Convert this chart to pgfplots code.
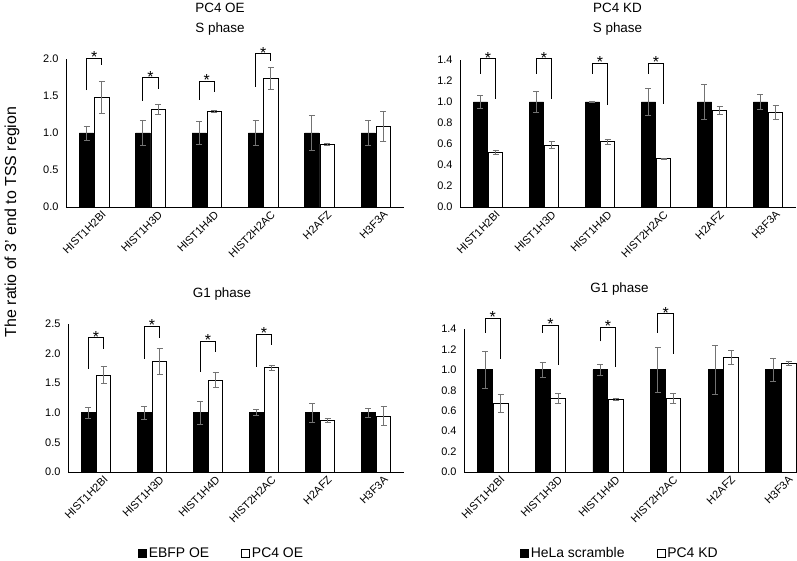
\documentclass[border=0pt]{standalone}
\usepackage{fontspec}
\setmainfont{Liberation Sans}
\usepackage{pgfplots}
\usepackage{pgfplotstable}
\pgfplotsset{compat=1.18}
\definecolor{errgray}{RGB}{115,115,115}
\newcommand\ticksize{\fontsize{11}{13}\selectfont}
\newcommand\titlesize{\fontsize{13.5}{15}\selectfont}
\newcommand\starsize{\fontsize{16}{17}\selectfont}

\pgfplotstableread{
xb xw b be w we
-0.135 0.135 1 0.095 1.48 0.22
0.865 1.135 1 0.17 1.32 0.065
1.865 2.135 1 0.15 1.29 0.012
2.865 3.135 1 0.17 1.74 0.15
3.865 4.135 1 0.24 0.85 0.015
4.865 5.135 1 0.17 1.09 0.20
}\sOE
\pgfplotstableread{
xb xw b be w we
-0.135 0.135 1 0.06 0.52 0.02
0.865 1.135 1 0.10 0.59 0.035
1.865 2.135 1 0.005 0.62 0.02
2.865 3.135 1 0.13 0.46 0.005
3.865 4.135 1 0.17 0.92 0.035
4.865 5.135 1 0.07 0.90 0.065
}\sKD
\pgfplotstableread{
xb xw b be w we
-0.135 0.135 1 0.09 1.64 0.14
0.865 1.135 1 0.11 1.86 0.22
1.865 2.135 1 0.19 1.55 0.13
2.865 3.135 1 0.05 1.76 0.04
3.865 4.135 1 0.16 0.87 0.04
4.865 5.135 1 0.08 0.94 0.16
}\gOE
\pgfplotstableread{
xb xw b be w we
-0.135 0.135 1 0.18 0.67 0.085
0.865 1.135 1 0.07 0.72 0.05
1.865 2.135 1 0.05 0.71 0.01
2.865 3.135 1 0.22 0.72 0.05
3.865 4.135 1 0.24 1.12 0.07
4.865 5.135 1 0.11 1.06 0.02
}\gKD

\tikzset{stars/.style={font=\starsize, anchor=base, inner sep=0pt, yshift=-4.5bp}}
\pgfplotsset{
  panel/.style={
    scale only axis, anchor=south west,
    axis x line*=bottom, axis y line*=left,
    xmin=-0.5, xmax=5.5, ymin=0,
    enlargelimits=false, clip=false,
    xtick={0,...,5},
    xticklabels={HIST1H2BI,HIST1H3D,HIST1H4D,HIST2H2AC,H2AFZ,H3F3A},
    major tick length=0pt,
    axis line style={black, line width=0.8pt},
    x tick label style={rotate=45, anchor=north east, font=\ticksize, inner sep=1bp, xshift=4bp, yshift=-6bp},
    y tick label style={font=\ticksize, xshift=-4bp},
    yticklabel style={/pgf/number format/.cd, fixed, fixed zerofill, precision=1, assume math mode=true},
    legend image code/.code={\draw[#1,/tikz/.cd,line width=0.8pt] (0bp,-4bp) rectangle (8bp,4bp);},
  },
  errstyle/.style={error bars/.cd, y dir=both, y explicit,
    error bar style={errgray, line width=0.9pt},
    error mark options={rotate=90, errgray, mark size=3bp, line width=0.9pt}},
  blackbar/.style={ybar, bar width=0.255, bar shift=0pt, fill=black, draw=black, line width=0.8pt, errstyle},
  whitebar/.style={ybar, bar width=0.255, bar shift=0pt, fill=white, draw=black, line width=0.8pt, errstyle},
  brk/.style={sharp plot, black, line width=0.8pt, mark=none, forget plot},
}

\begin{document}
\begin{tikzpicture}
\path[use as bounding box] (0,0) rectangle (797bp,561bp);

% titles
\node[font=\titlesize, anchor=base] at (220bp,548bp) {PC4 OE};
\node[font=\titlesize, anchor=base] at (220bp,528.5bp) {S phase};
\node[font=\titlesize, anchor=base] at (617.5bp,548bp) {PC4 KD};
\node[font=\titlesize, anchor=base] at (617.5bp,528.5bp) {S phase};
\node[font=\titlesize, anchor=base] at (222bp,263bp) {G1 phase};
\node[font=\titlesize, anchor=base] at (619.5bp,268bp) {G1 phase};
\node[font=\fontsize{16}{18}\selectfont, rotate=90] at (12bp,339bp) {The ratio of 3' end to TSS region};

% top-left
\begin{axis}[panel, at={(66bp,354bp)}, width=338bp, height=148bp, ymax=2.0, ytick={0,0.5,...,2.0}]
\addplot[blackbar] table[x=xb,y=b,y error=be]{\sOE};
\addplot[whitebar] table[x=xw,y=w,y error=we]{\sOE};
\addplot[brk] coordinates {(-0.135,1.58) (-0.135,2.01) (0.135,2.01) (0.135,1.92)};
\addplot[brk] coordinates {(0.865,1.437) (0.865,1.748) (1.135,1.748) (1.135,1.59)};
\addplot[brk] coordinates {(1.865,1.446) (1.865,1.70) (2.135,1.70) (2.135,1.55)};
\addplot[brk] coordinates {(2.865,1.626) (2.865,2.07) (3.135,2.07) (3.135,1.97)};
\node[stars] at (axis cs:0,2.01) {*};
\node[stars] at (axis cs:1,1.748) {*};
\node[stars] at (axis cs:2,1.70) {*};
\node[stars] at (axis cs:3,2.07) {*};
\end{axis}

% top-right
\begin{axis}[panel, at={(460bp,354bp)}, width=336bp, height=147bp, ymax=1.4, ytick={0,0.2,...,1.41}]
\addplot[blackbar] table[x=xb,y=b,y error=be]{\sKD};
\addplot[whitebar] table[x=xw,y=w,y error=we]{\sKD};
\addplot[brk] coordinates {(-0.135,1.267) (-0.135,1.413) (0.135,1.413) (0.135,1.03)};
\addplot[brk] coordinates {(0.865,1.267) (0.865,1.413) (1.135,1.413) (1.135,1.025)};
\addplot[brk] coordinates {(1.865,1.267) (1.865,1.368) (2.135,1.368) (2.135,0.968)};
\addplot[brk] coordinates {(2.865,1.267) (2.865,1.368) (3.135,1.368) (3.135,0.98)};
\node[stars] at (axis cs:0,1.413) {*};
\node[stars] at (axis cs:1,1.413) {*};
\node[stars] at (axis cs:2,1.368) {*};
\node[stars] at (axis cs:3,1.368) {*};
\end{axis}

% bottom-left
\begin{axis}[panel, at={(68bp,89bp)}, width=336bp, height=148bp, ymax=2.5, ytick={0,0.5,...,2.5},
  legend style={at={(axis description cs:0.457,-0.547)}, anchor=center, draw=none, fill=none,
    legend columns=2, font=\fontsize{14}{16}\selectfont, inner sep=0pt,
    /tikz/every even column/.append style={column sep=30bp}},
  legend cell align=left]
\addplot[blackbar] table[x=xb,y=b,y error=be]{\gOE};
\addplot[whitebar] table[x=xw,y=w,y error=we]{\gOE};
\legend{EBFP OE, PC4 OE}
\addplot[brk] coordinates {(-0.135,1.74) (-0.135,2.27) (0.135,2.27) (0.135,2.08)};
\addplot[brk] coordinates {(0.865,1.91) (0.865,2.46) (1.135,2.46) (1.135,2.26)};
\addplot[brk] coordinates {(1.865,1.69) (1.865,2.21) (2.135,2.21) (2.135,2.02)};
\addplot[brk] coordinates {(2.865,1.78) (2.865,2.33) (3.135,2.33) (3.135,2.15)};
\node[stars] at (axis cs:0,2.27) {*};
\node[stars] at (axis cs:1,2.46) {*};
\node[stars] at (axis cs:2,2.21) {*};
\node[stars] at (axis cs:3,2.33) {*};
\end{axis}

% bottom-right
\begin{axis}[panel, at={(464bp,89bp)}, width=333bp, height=143bp, xmax=5.28, ymax=1.4, ytick={0,0.2,...,1.41},
  legend style={at={(axis description cs:0.468,-0.566)}, anchor=center, draw=none, fill=none,
    legend columns=2, font=\fontsize{14}{16}\selectfont, inner sep=0pt,
    /tikz/every even column/.append style={column sep=30bp}},
  legend cell align=left]
\addplot[blackbar] table[x=xb,y=b,y error=be]{\gKD};
\addplot[whitebar] table[x=xw,y=w,y error=we]{\gKD};
\legend{HeLa scramble, PC4 KD}
\addplot[brk] coordinates {(-0.135,1.365) (-0.135,1.505) (0.135,1.505) (0.135,1.11)};
\addplot[brk] coordinates {(0.865,1.365) (0.865,1.44) (1.135,1.44) (1.135,1.05)};
\addplot[brk] coordinates {(1.865,1.28) (1.865,1.42) (2.135,1.42) (2.135,1.03)};
\addplot[brk] coordinates {(2.865,1.365) (2.865,1.55) (3.135,1.55) (3.135,1.16)};
\node[stars] at (axis cs:0,1.505) {*};
\node[stars] at (axis cs:1,1.44) {*};
\node[stars] at (axis cs:2,1.42) {*};
\node[stars] at (axis cs:3,1.55) {*};
\end{axis}
\end{tikzpicture}
\end{document}
